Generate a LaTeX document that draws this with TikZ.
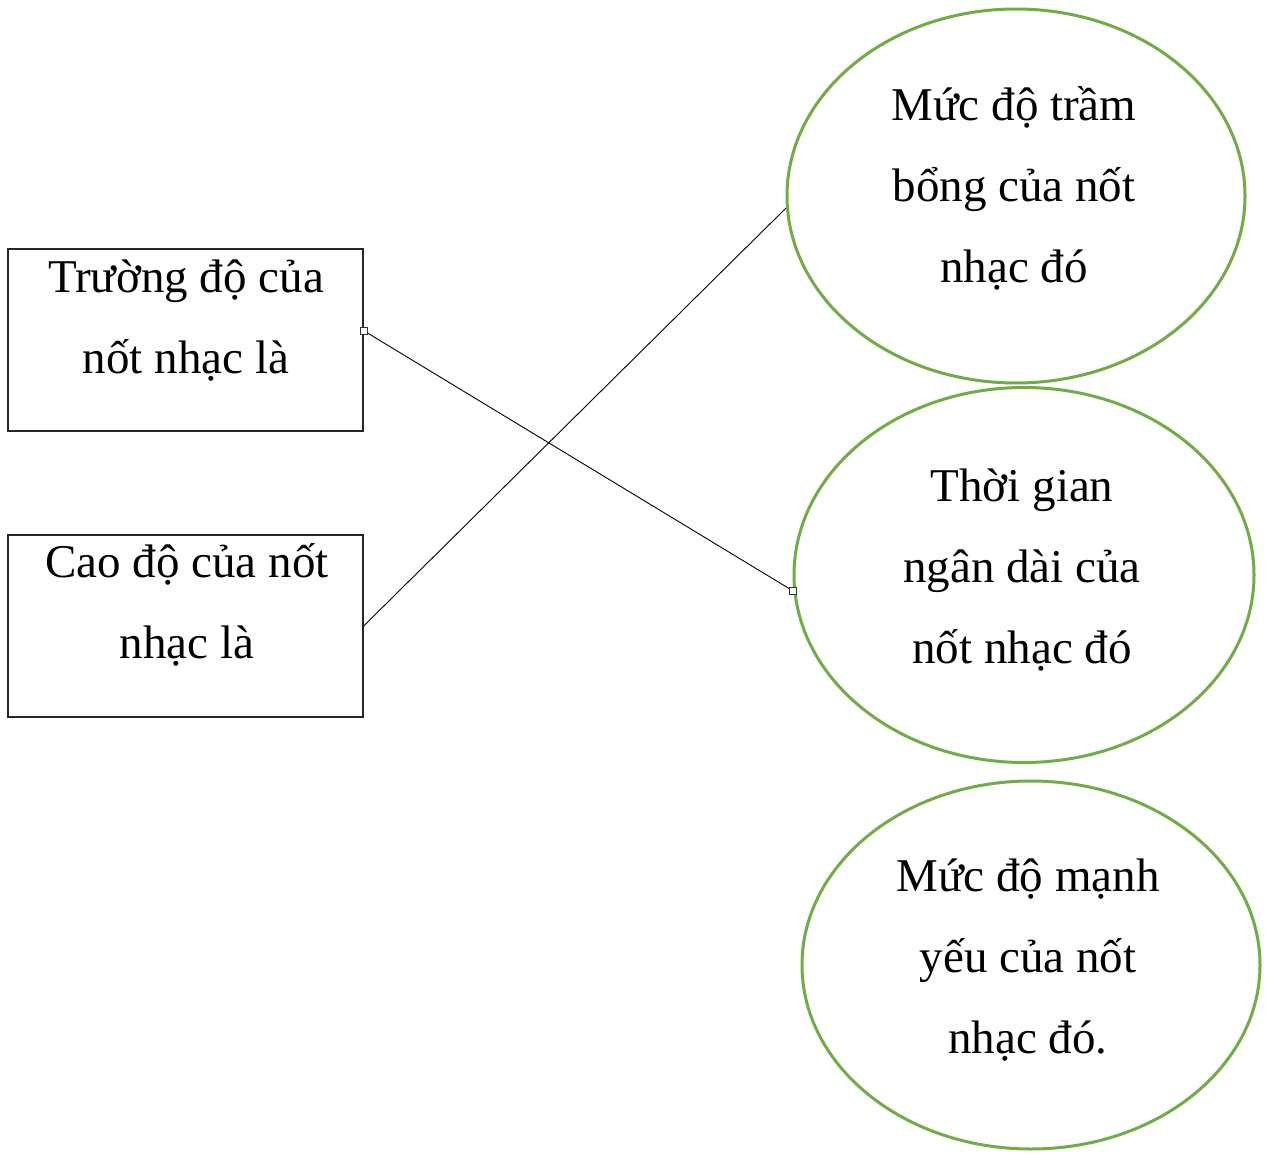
\documentclass[tikz,border=0pt]{standalone}
\usepackage{fontspec}
\setmainfont{Liberation Serif}
\usetikzlibrary{shapes.geometric,calc}
\definecolor{ovalgreen}{RGB}{112,173,71}
\begin{document}
\begin{tikzpicture}[x=1pt,y=-1pt,
  txt/.style={align=center,inner sep=0pt,font=\fontsize{47}{81}\selectfont},
  box/.style={draw=black!85,line width=1.3pt,minimum width=355pt,minimum height=182pt,inner sep=0pt},
  oval/.style={draw=ovalgreen,ellipse,line width=3pt,inner sep=0pt},
  handle/.style={draw=black!80,fill=white,line width=0.9pt,minimum size=7pt,inner sep=0pt},
  link/.style={draw=black,line width=0.9pt}]
\useasboundingbox (0,0) rectangle (1268,1155);
\fill[white] (0,0) rectangle (1268,1155);
% boxes
\node[box] (b1) at (185.5,340) {};
\node[box] (b2) at (185.5,626) {};
% ellipses
\node[oval,minimum width=458pt,minimum height=374pt] (e1) at (1016,196) {};
\node[oval,minimum width=460pt,minimum height=375pt] (e2) at (1024,575) {};
\node[oval,minimum width=458pt,minimum height=368pt] (e3) at (1031,965) {};
% texts
\node[txt] (t1) at (186,317) {\strut Trường độ của\\nốt nhạc là\strut};
\node[txt] (t2) at (187,602) {\strut Cao độ của nốt\\nhạc là\strut};
\node[txt] (t3) at (1014,185) {\strut Mức độ trầm\\bổng của nốt\\nhạc đó\strut};
\node[txt] (t4) at (1022,566) {\strut Thời gian\\ngân dài của\\nốt nhạc đó\strut};
\node[txt] (t5) at (1028,956) {\strut Mức độ mạnh\\yếu của nốt\\nhạc đó.\strut};
% connectors
\draw[link] (b2.east) -- (e1.183);
\draw[link] (b1.3) -- (e2.184);
\node[handle] (h1) at (b1.3) {};
\node[handle] (h2) at (e2.184) {};
\end{tikzpicture}
\end{document}
